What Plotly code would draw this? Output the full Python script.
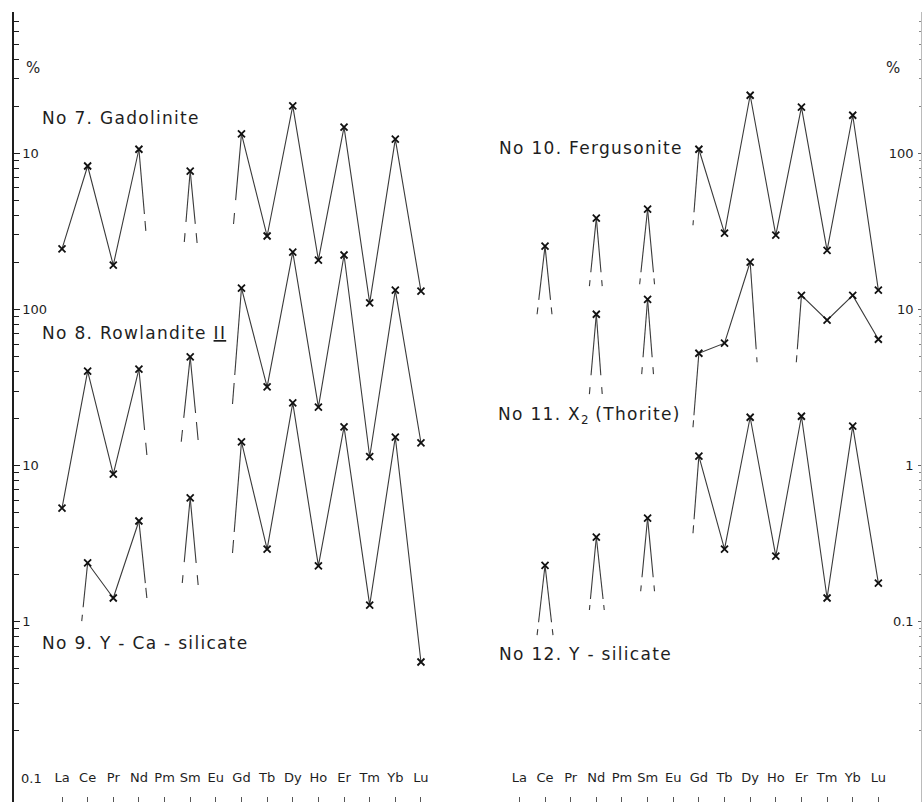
import math
import plotly.graph_objects as go

ELEMENTS = ["La", "Ce", "Pr", "Nd", "Pm", "Sm", "Eu", "Gd", "Tb", "Dy", "Ho", "Er", "Tm", "Yb", "Lu"]

# ---- values (None = element not plotted) ----
# left panel
gadolinite = [2.44, 8.28, 1.92, 10.6, None, 7.69, None, 13.3, 2.95, 20.1, 2.07, 14.7, 1.10, 12.3, 1.31]
rowlandite = [5.35, 40.3, 8.83, 41.5, None, 49.6, None, 137, 31.9, 233, 23.7, 223, 11.4, 133, 14.0]
y_ca_silicate = [None, 2.38, 1.42, 4.42, None, 6.21, None, 14.2, 2.92, 25.2, 2.28, 17.7, 1.28, 15.2, 0.553]
# right panel
fergusonite = [None, 25.4, None, 38.4, None, 43.8, None, 106, 30.8, 235, 29.9, 197, 23.9, 175, 13.3]
thorite = [None, None, None, 9.31, None, 11.6, None, 5.24, 6.08, 20.1, None, 12.3, 8.53, 12.3, 6.44]
y_silicate = [None, 0.230, None, 0.348, None, 0.461, None, 1.15, 0.292, 2.04, 0.263, 2.07, 0.142, 1.79, 0.177]

# broken "toward missing element" stubs:
# (element index, x-shift of stub end in element units, value at end of solid part,
#  value at start of dash, value at end of dash)
gadolinite_stubs = [(3, 0.27, 4.08, 3.68, 3.18), (5, -0.23, 3.63, 3.08, 2.70),
                    (5, 0.27, 3.53, 3.08, 2.66), (7, -0.31, 5.01, 4.14, 3.52)]
rowlandite_stubs = [(3, 0.31, 16.9, 14.0, 11.7), (5, -0.35, 20.2, 16.9, 14.2),
                    (5, 0.31, 21.7, 19.0, 14.6), (7, -0.35, 38.0, 33.8, 24.8)]
y_ca_stubs = [(1, -0.23, 1.24, 1.11, 1.01), (3, 0.31, 1.77, 1.65, 1.42),
              (5, -0.31, 2.41, 1.99, 1.77), (5, 0.31, 2.38, 1.99, 1.72),
              (7, -0.35, 3.76, 3.34, 2.76)]
fergusonite_stubs = [(1, -0.31, 11.5, 10.3, 9.31), (1, 0.27, 11.5, 10.3, 9.31),
                     (3, -0.27, 17.3, 15.4, 14.1), (3, 0.23, 17.3, 15.4, 14.1),
                     (5, -0.31, 17.3, 15.8, 14.5), (5, 0.27, 17.3, 15.8, 14.5),
                     (7, -0.23, 41.9, 37.2, 34.6)]
thorite_stubs = [(3, -0.27, 3.79, 3.18, 2.87), (3, 0.23, 3.79, 3.18, 2.87),
                 (5, -0.23, 4.94, 4.27, 3.85), (5, 0.23, 4.94, 4.27, 3.85),
                 (7, -0.23, 2.10, 1.95, 1.76), (9, 0.27, 5.56, 4.94, 4.59),
                 (11, -0.20, 5.56, 5.09, 4.59)]
y_silicate_stubs = [(1, -0.31, 0.0994, 0.0897, 0.0821), (1, 0.31, 0.0994, 0.0897, 0.0821),
                    (3, -0.27, 0.140, 0.128, 0.119), (3, 0.31, 0.140, 0.128, 0.119),
                    (5, -0.27, 0.193, 0.171, 0.157), (5, 0.27, 0.193, 0.171, 0.157),
                    (7, -0.23, 0.454, 0.415, 0.369)]

# display offset: Gadolinite is drawn two decades higher (left axis labels repeat "10")
GADOLINITE_OFFSET = 100

LEFT_TICKVALS = [1000, 100, 10, 1, 0.1]
LEFT_TICKTEXT = ["10", "100", "10", "1", "0.1"]
RIGHT_TICKVALS = [100, 10, 1, 0.1]
RIGHT_TICKTEXT = ["100", "10", "1", "0.1"]

W, H = 922, 802
LINE = "#3a3a3a"
INK = "#1e1e1e"
FONT = "DejaVu Sans"

fig = go.Figure()


def add_series(values, stubs, xa, ya, factor=1.0):
    xs = list(range(len(ELEMENTS)))
    ys = [None if v is None else v * factor for v in values]
    fig.add_trace(go.Scatter(x=xs, y=ys, mode="lines", connectgaps=False,
                             line=dict(color=LINE, width=1.1), xaxis=xa, yaxis=ya,
                             hoverinfo="skip", showlegend=False))
    sx, sy, dx_, dy_ = [], [], [], []
    for idx, shift, v_solid, v_d0, v_d1 in stubs:
        v0 = values[idx] * factor
        lv0 = math.log10(v0)
        lend = math.log10(v_d1 * factor)

        def xpos(v):
            t = (math.log10(v * factor) - lv0) / (lend - lv0)
            return idx + shift * t

        sx += [idx, xpos(v_solid), None]
        sy += [v0, v_solid * factor, None]
        dx_ += [xpos(v_d0), xpos(v_d1), None]
        dy_ += [v_d0 * factor, v_d1 * factor, None]
    fig.add_trace(go.Scatter(x=sx, y=sy, mode="lines", line=dict(color=LINE, width=1.1),
                             xaxis=xa, yaxis=ya, hoverinfo="skip", showlegend=False))
    fig.add_trace(go.Scatter(x=dx_, y=dy_, mode="lines", line=dict(color=LINE, width=1.1),
                             xaxis=xa, yaxis=ya, hoverinfo="skip", showlegend=False))
    fig.add_trace(go.Scatter(x=xs, y=ys, mode="markers",
                             marker=dict(symbol="x-thin", size=7, line=dict(color="#111", width=1.8)),
                             xaxis=xa, yaxis=ya, hoverinfo="skip", showlegend=False))


add_series(gadolinite, gadolinite_stubs, "x", "y", GADOLINITE_OFFSET)
add_series(rowlandite, rowlandite_stubs, "x", "y")
add_series(y_ca_silicate, y_ca_stubs, "x", "y")
add_series(fergusonite, fergusonite_stubs, "x2", "y2")
add_series(thorite, thorite_stubs, "x2", "y2")
add_series(y_silicate, y_silicate_stubs, "x2", "y2")


def minor_vals(lo, hi):
    out = []
    for n in range(lo, hi + 1):
        for k in range(2, 10):
            out.append(k * 10 ** n)
    return out


STEP = 25.64
DEC = 156.2

left_x0, left_x1 = 14, 460
right_x0, right_x1 = 470, 921
top_px = 12

xaxis_common = dict(
    tickmode="array", tickvals=list(range(len(ELEMENTS))), ticktext=ELEMENTS,
    ticks="inside", ticklen=5, tickcolor="#555", tickwidth=1,
    ticklabelposition="inside", ticklabelstandoff=12,
    tickfont=dict(family=FONT, size=13, color=INK),
    showline=False, showgrid=False, zeroline=False,
)

xr0 = -(62 - left_x0) / STEP
xr0b = -(519.4 - right_x0) / STEP
ytop = -1 + (778 - top_px) / DEC
ybot = -1 + (778 - H) / DEC

# the lowest left label would be hidden by plotly (it collides with the inside x labels),
# so its tick is drawn with the minor ticks and its text as an annotation at its axis value
left_major_vals = LEFT_TICKVALS[:-1]
left_major_text = LEFT_TICKTEXT[:-1]
left_minor = [LEFT_TICKVALS[-1]] + minor_vals(-1, 3)

fig.update_layout(
    width=W, height=H, margin=dict(l=0, r=0, t=0, b=0),
    paper_bgcolor="white", plot_bgcolor="white", showlegend=False,
    xaxis=dict(domain=[left_x0 / W, left_x1 / W], range=[xr0, xr0 + (left_x1 - left_x0) / STEP],
               anchor="y", **xaxis_common),
    xaxis2=dict(domain=[right_x0 / W, right_x1 / W], range=[xr0b, xr0b + (right_x1 - right_x0) / STEP],
                anchor="y2", **xaxis_common),
    yaxis=dict(type="log", domain=[0, 1 - top_px / H], range=[ybot, ytop], anchor="x",
               tickmode="array", tickvals=left_major_vals, ticktext=left_major_text,
               ticks="inside", ticklen=6, tickcolor=INK, tickwidth=1.2,
               ticklabelposition="inside", ticklabelstandoff=2,
               tickfont=dict(family=FONT, size=13, color=INK),
               minor=dict(tickmode="array", tickvals=left_minor, ticks="inside",
                          ticklen=5, tickcolor=INK, tickwidth=1.2, showgrid=False),
               showline=True, linecolor=INK, linewidth=1.6, showgrid=False, zeroline=False),
    yaxis2=dict(type="log", domain=[0, 1 - top_px / H], range=[ybot - 1, ytop - 1], anchor="x2",
                side="right",
                tickmode="array", tickvals=RIGHT_TICKVALS, ticktext=RIGHT_TICKTEXT,
                ticks="inside", ticklen=3, tickcolor="#666", tickwidth=1,
                ticklabelposition="inside", ticklabelstandoff=4,
                tickfont=dict(family=FONT, size=13, color=INK),
                minor=dict(tickmode="array", tickvals=minor_vals(-3, 2), ticks="inside",
                           ticklen=2, tickcolor="#888", tickwidth=1, showgrid=False),
                showline=True, linecolor="#bbbbbb", linewidth=1, showgrid=False, zeroline=False),
)

fig.add_annotation(text=LEFT_TICKTEXT[-1], x=(left_x0 + 5) / W, xref="paper", xanchor="left",
                   y=math.log10(LEFT_TICKVALS[-1]), yref="y", yanchor="middle", showarrow=False,
                   font=dict(family=FONT, size=13, color=INK))

LS = "letter-spacing:1.3px"


def sp(text, extra=""):
    return "<span style='%s%s'>%s</span>" % (LS, extra, text)


def ann(text, x, y, size=17, xanchor="left"):
    fig.add_annotation(text=text, x=x / W, y=1 - y / H, xref="paper", yref="paper",
                       xanchor=xanchor, yanchor="middle", showarrow=False,
                       font=dict(family=FONT, size=size, color=INK))


ann(sp("No 7. Gadolinite"), 40, 118)
ann(sp("No 8. Rowlandite ") + sp("II", ";text-decoration:underline"), 40, 333)
ann(sp("No 9. Y - Ca - silicate"), 40, 643)
ann(sp("No 10. Fergusonite"), 497, 148)
ann(sp("No 11. X") + "<sub>2</sub>" + sp(" (Thorite)"), 496, 415)
ann(sp("No 12. Y - silicate"), 497, 654)
ann("%", 24, 68, size=15)
ann("%", 884, 68, size=15)

fig.write_html("out.html")
